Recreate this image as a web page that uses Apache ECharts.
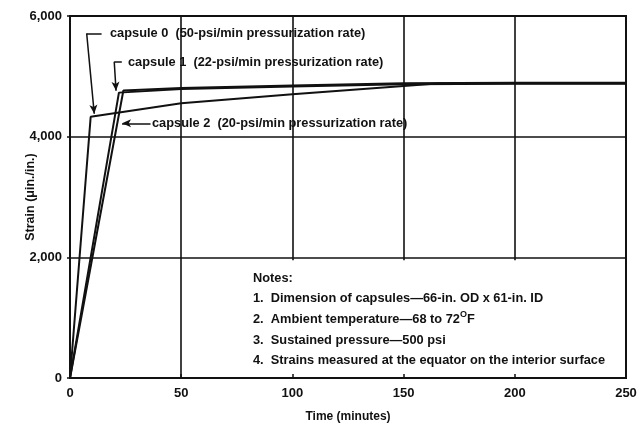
<!DOCTYPE html>
<html>
<head>
<meta charset="utf-8">
<script src="https://cdn.jsdelivr.net/npm/echarts@6/dist/echarts.min.js"></script>
<style>html,body{margin:0;padding:0;background:#fff}#c{width:641px;height:425px}</style>
</head>
<body>
<div id="c"></div>
<script>
// ---- data ----
var time0   = [0, 9.3, 50, 100, 150, 165, 200, 250];
var strain0 = [0, 4330, 4553, 4705, 4840, 4880, 4885, 4885];
var time1   = [0, 22, 50, 100, 150, 200, 250];
var strain1 = [0, 4730, 4792, 4832, 4868, 4878, 4878];
var time2   = [0, 24, 50, 100, 150, 200, 250];
var strain2 = [0, 4765, 4808, 4848, 4884, 4894, 4894];
var xTicks = [0, 50, 100, 150, 200, 250];
var yTicks = [0, 2000, 4000, 6000];
var yTickLabels = ['0', '2,000', '4,000', '6,000'];
var seriesNames = ['capsule 0', 'capsule 1', 'capsule 2'];
var labels = [
  'capsule 0  (50-psi/min pressurization rate)',
  'capsule 1  (22-psi/min pressurization rate)',
  'capsule 2  (20-psi/min pressurization rate)'
];
var notes = [
  'Notes:',
  '1.  Dimension of capsules\u201466-in. OD x 61-in. ID',
  '2.  Ambient temperature\u201468 to 72{sup|O}F',
  '3.  Sustained pressure\u2014500 psi',
  '4.  Strains measured at the equator on the interior surface'
];

function pairs(xs, ys) { return xs.map(function (x, i) { return [x, ys[i]]; }); }

var FONT = '"Liberation Sans", Arial, sans-serif';
function txt(x, y, text, extra) {
  var st = { text: text, font: 'bold 12.8px ' + FONT, fill: '#111', verticalAlign: 'middle', align: 'left' };
  if (extra) Object.assign(st, extra);
  return { type: 'text', x: x, y: y, z: 10, style: st };
}

var chart = echarts.init(document.getElementById('c'));
var lineStyle = { color: '#111', width: 2 };
var seg = function (a, b) { return [{ coord: a }, { coord: b }]; };

chart.setOption({
  animation: false,
  backgroundColor: '#fff',
  grid: { left: 70, right: 15, top: 16, bottom: 47, show: true, borderColor: '#111', borderWidth: 2, outerBoundsMode: 'none' },
  xAxis: {
    type: 'value', min: 0, max: 250, interval: 50,
    name: 'Time (minutes)', nameLocation: 'middle', nameGap: 33,
    nameTextStyle: { fontFamily: FONT, fontSize: 12, fontWeight: 'bold', color: '#111' },
    axisLine: { lineStyle: { color: '#111', width: 2 } },
    axisTick: { show: true, inside: true, length: 4, lineStyle: { color: '#111', width: 1.5 } },
    axisLabel: { margin: 9, fontFamily: FONT, fontSize: 13, fontWeight: 'bold', color: '#111',
      formatter: function (v) { return xTicks.indexOf(v) >= 0 ? String(v) : ''; } },
    splitLine: { show: false }
  },
  yAxis: {
    type: 'value', min: 0, max: 6000, interval: 2000,
    name: 'Strain (\u03bcin./in.)', nameLocation: 'middle', nameGap: 33, nameMoveOverlap: false,
    nameTextStyle: { fontFamily: FONT, fontSize: 12.5, fontWeight: 'bold', color: '#111' },
    axisLine: { lineStyle: { color: '#111', width: 2 } },
    axisTick: { show: true, length: 3, lineStyle: { color: '#111', width: 1.5 } },
    axisLabel: { margin: 8, fontFamily: FONT, fontSize: 13, fontWeight: 'bold', color: '#111',
      formatter: function (v) { var i = yTicks.indexOf(v); return i >= 0 ? yTickLabels[i] : ''; } },
    splitLine: { show: true, lineStyle: { color: '#111', width: 1.6 } }
  },
  series: [
    {
      type: 'line', data: [], silent: true, z: 1,
      markLine: {
        silent: true, symbol: ['none', 'none'], label: { show: false },
        lineStyle: { color: '#111', width: 1.6, type: 'solid' },
        data: [
          seg([50, 0], [50, 6000]),
          seg([100, 1950], [100, 6000]),
          seg([150, 1950], [150, 6000]),
          seg([200, 1950], [200, 6000])
        ]
      }
    },
    { name: seriesNames[0], type: 'line', data: pairs(time0, strain0), showSymbol: false, z: 3, lineStyle: lineStyle },
    { name: seriesNames[1], type: 'line', data: pairs(time1, strain1), showSymbol: false, z: 3, lineStyle: lineStyle },
    { name: seriesNames[2], type: 'line', data: pairs(time2, strain2), showSymbol: false, z: 3, lineStyle: lineStyle },
    {
      type: 'line', data: [], silent: true, z: 4,
      markLine: {
        silent: true, symbol: ['none', 'none'], label: { show: false },
        lineStyle: { color: '#111', width: 1.5, type: 'solid' },
        data: [
          seg([14.2, 5713], [7.5, 5713]),
          seg([23.3, 5243], [19.9, 5243])
        ]
      }
    },
    {
      type: 'line', data: [], silent: true, z: 4,
      markLine: {
        silent: true, symbol: ['none', 'arrow'], symbolSize: [6, 9], label: { show: false },
        lineStyle: { color: '#111', width: 1.5, type: 'solid' },
        data: [
          seg([7.5, 5713], [10.9, 4380]),
          seg([19.9, 5243], [20.7, 4760]),
          seg([36.2, 4221], [23.4, 4221])
        ]
      }
    }
  ],
  graphic: [
    txt(110, 33, labels[0]),
    txt(128, 62, labels[1]),
    txt(152, 123, labels[2]),
    txt(253, 278, notes[0]),
    txt(253, 298, notes[1]),
    txt(253, 319, notes[2], { rich: { sup: { font: 'bold 9px ' + FONT, fill: '#111', verticalAlign: 'bottom', padding: [0, 0, 8, 0] } } }),
    txt(253, 340, notes[3]),
    txt(253, 360, notes[4])
  ]
});
</script>
</body>
</html>
